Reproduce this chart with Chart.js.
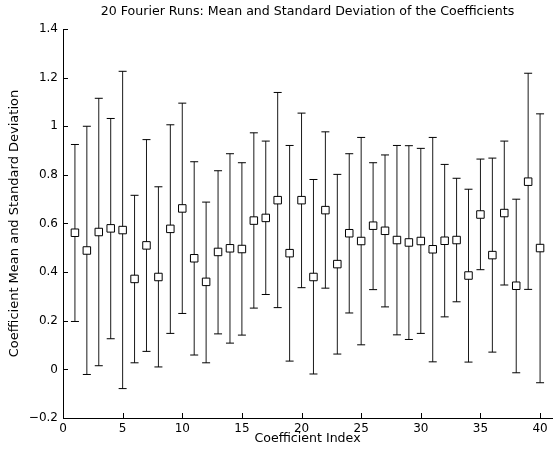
<!DOCTYPE html>
<html>
<head>
<meta charset="utf-8">
<script src="https://cdn.jsdelivr.net/npm/chart.js@4.4.1/dist/chart.umd.min.js"></script>
<style>
  html, body { margin: 0; padding: 0; background: #fff; }
  #wrap { width: 554px; height: 455px; }
</style>
</head>
<body>
<div id="wrap"><canvas id="c" width="554" height="455"></canvas></div>
<script>
// ---- data ----
const indices = [1,2,3,4,5,6,7,8,9,10,11,12,13,14,15,16,17,18,19,20,
                 21,22,23,24,25,26,27,28,29,30,31,32,33,34,35,36,37,38,39,40];
const means = [0.562,0.489,0.565,0.580,0.573,0.372,0.510,0.380,0.578,0.662,
               0.457,0.360,0.483,0.498,0.495,0.612,0.623,0.696,0.478,0.696,
               0.380,0.655,0.433,0.560,0.528,0.591,0.570,0.532,0.522,0.528,
               0.494,0.529,0.532,0.386,0.637,0.470,0.643,0.344,0.772,0.499];
const upper = [0.925,1.000,1.115,1.032,1.226,0.716,0.945,0.751,1.006,1.095,
               0.854,0.688,0.817,0.887,0.850,0.973,0.939,1.139,0.921,1.054,
               0.781,0.977,0.802,0.887,0.954,0.850,0.882,0.921,0.920,0.909,
               0.954,0.843,0.786,0.741,0.865,0.869,0.939,0.700,1.218,1.051];
const lower = [0.197,-0.021,0.015,0.126,-0.079,0.027,0.074,0.010,0.148,0.230,
               0.059,0.027,0.146,0.108,0.141,0.252,0.308,0.254,0.034,0.336,
               -0.019,0.334,0.063,0.232,0.101,0.328,0.257,0.142,0.123,0.148,
               0.031,0.216,0.278,0.030,0.410,0.071,0.347,-0.014,0.329,-0.055];
const xTicks = [0,5,10,15,20,25,30,35,40];
const yTicks = [-0.2,0,0.2,0.4,0.6,0.8,1.0,1.2,1.4];
const titleText = "20 Fourier Runs: Mean and Standard Deviation of the Coefficients";
const xTitle = "Coefficient Index";
const yTitle = "Coefficient Mean and Standard Deviation";

const FONT = "'DejaVu Sans', sans-serif";

// stems: segments lower->upper, broken by null gaps
const stemData = [];
indices.forEach((x, i) => {
  stemData.push({x: x, y: lower[i]});
  stemData.push({x: x, y: upper[i]});
  stemData.push({x: x, y: null});
});

const insideTicks = {
  id: 'insideTicks',
  afterDraw(chart) {
    const ctx = chart.ctx, xs = chart.scales.x, ys = chart.scales.y;
    const a = chart.chartArea;
    ctx.save();
    ctx.strokeStyle = '#000';
    ctx.lineWidth = 1;
    ctx.beginPath();
    yTicks.forEach(v => {
      const y = Math.round(ys.getPixelForValue(v)) + 0.5;
      ctx.moveTo(a.left, y); ctx.lineTo(a.left + 5, y);
    });
    xTicks.forEach(v => {
      const x = Math.round(xs.getPixelForValue(v)) + 0.5;
      ctx.moveTo(x, a.bottom); ctx.lineTo(x, a.bottom - 5);
    });
    ctx.stroke();
    // title centred over the plot area
    ctx.fillStyle = '#000';
    ctx.font = '12.6px ' + FONT;
    ctx.textAlign = 'center';
    ctx.textBaseline = 'middle';
    ctx.fillText(titleText, (a.left + a.right) / 2, 12);
    ctx.restore();
  }
};

new Chart(document.getElementById('c'), {
  data: {
    datasets: [
      {
        type: 'line',
        data: stemData,
        borderColor: '#1a1a1a',
        borderWidth: 1,
        pointRadius: 0,
        spanGaps: false,
        fill: false,
        order: 3
      },
      {
        type: 'scatter',
        data: indices.map((x, i) => ({x: x, y: upper[i]})),
        pointStyle: 'line',
        pointRadius: 4,
        borderColor: '#000',
        borderWidth: 1,
        order: 2
      },
      {
        type: 'scatter',
        data: indices.map((x, i) => ({x: x, y: lower[i]})),
        pointStyle: 'line',
        pointRadius: 4,
        borderColor: '#000',
        borderWidth: 1,
        order: 2
      },
      {
        type: 'scatter',
        data: indices.map((x, i) => ({x: x, y: means[i]})),
        pointStyle: 'rect',
        pointRadius: 5.3,
        backgroundColor: '#fff',
        borderColor: '#000',
        borderWidth: 1,
        order: 1
      }
    ]
  },
  options: {
    responsive: false,
    animation: false,
    devicePixelRatio: 1,
    layout: { autoPadding: false, padding: { top: 29, right: 2, left: 0, bottom: 0 } },
    plugins: {
      legend: { display: false },
      tooltip: { enabled: false },
      title: { display: false }
    },
    scales: {
      x: {
        type: 'linear',
        min: 0, max: 41,
        afterBuildTicks(s) { s.ticks = xTicks.map(v => ({value: v})); },
        afterFit(s) { s.height = 37; s.paddingLeft = 0; s.paddingRight = 0; },
        grid: { display: false, drawTicks: false },
        border: { display: true, color: '#000', width: 1 },
        ticks: { color: '#000', font: { family: FONT, size: 12 }, padding: 4, maxRotation: 0 },
        title: { display: true, text: xTitle, color: '#000', font: { family: FONT, size: 12.6 }, padding: { top: 0, bottom: 9 } }
      },
      y: {
        type: 'linear',
        min: -0.2, max: 1.4,
        afterBuildTicks(s) { s.ticks = yTicks.map(v => ({value: v})); },
        afterFit(s) { s.width = 63; },
        grid: { display: false, drawTicks: false },
        border: { display: true, color: '#000', width: 1 },
        ticks: {
          color: '#000', font: { family: FONT, size: 12 }, padding: 5,
          callback: v => String(Math.round(v * 10) / 10).replace('-', '\u2212')
        },
        title: { display: true, text: yTitle, color: '#000', font: { family: FONT, size: 13 }, padding: { top: 7, bottom: 0 } }
      }
    }
  },
  plugins: [insideTicks]
});
</script>
</body>
</html>
